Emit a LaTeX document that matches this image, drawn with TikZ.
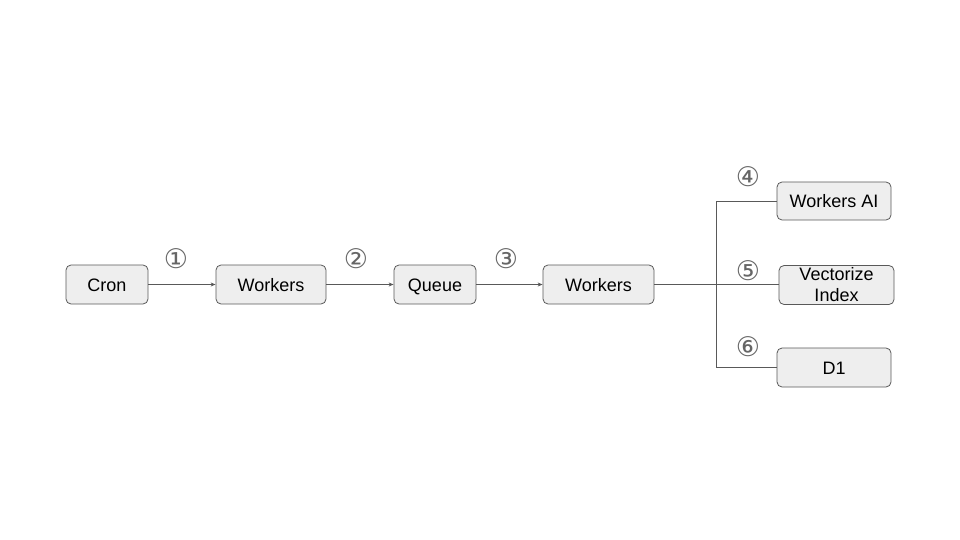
\documentclass[tikz,border=0pt]{standalone}
\usepackage{fontspec}
\setmainfont{Liberation Sans}
\newfontfamily\circfont{DejaVu Sans}
\usetikzlibrary{arrows.meta}
\definecolor{boxfill}{HTML}{EEEEEE}
\definecolor{boxline}{HTML}{595959}
\definecolor{numcol}{HTML}{666666}
\begin{document}
\begin{tikzpicture}[x=1pt,y=-1pt,
  box/.style={draw=boxline,fill=boxfill,rounded corners=5pt,line width=0.8pt,
    inner sep=0pt,font=\fontsize{18}{20}\selectfont,align=center},
  one/.style={text height=15pt,text depth=2pt},
  conn/.style={draw=boxline,line width=0.8pt},
  arr/.style={conn,-{Stealth[length=5pt,width=4pt]}},
  num/.style={font=\circfont\fontsize{27}{27}\selectfont,text=numcol,inner sep=0pt}]
\useasboundingbox (0,0) rectangle (960,540);
\node[box,one,minimum width=82pt,minimum height=39pt] (cron) at (107,284.5) {Cron};
\node[box,one,minimum width=110pt,minimum height=39pt] (w1) at (271,284.5) {Workers};
\node[box,one,minimum width=82pt,minimum height=39pt] (queue) at (435,284.5) {Queue};
\node[box,one,minimum width=111pt,minimum height=39pt] (w2) at (598.5,284.5) {Workers};
\node[box,one,minimum width=114pt,minimum height=38pt] (wai) at (834,201) {Workers AI};
\node[box,minimum width=115pt,minimum height=39pt,font=\fontsize{18}{21}\selectfont] (vec) at (836.5,285) {Vectorize\\Index};
\node[box,one,minimum width=114pt,minimum height=39pt] (d1) at (834,367.5) {D1};
\coordinate (br) at (716,284.5);
\draw[arr] (cron) -- (w1);
\draw[arr] (w1) -- (queue);
\draw[arr] (queue) -- (w2);
\draw[conn] (w2) -- (br) -- (vec.west |- br);
\draw[conn] (br) |- (wai.west);
\draw[conn] (br) |- (d1.west);
\node[num] (n1) at (176,259) {①};
\node[num] (n2) at (356,259) {②};
\node[num] (n3) at (506,259) {③};
\node[num] (n4) at (748,177) {④};
\node[num] (n5) at (748,271) {⑤};
\node[num] (n6) at (748,347) {⑥};
\end{tikzpicture}
\end{document}
